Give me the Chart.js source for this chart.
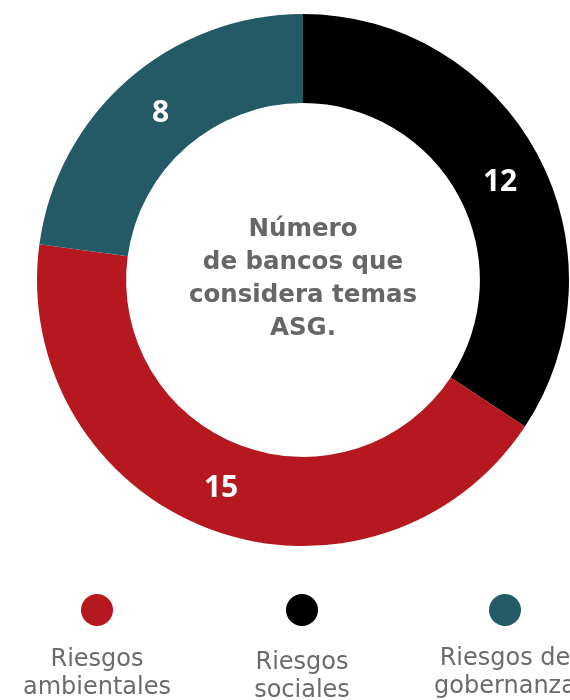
<!DOCTYPE html>
<html lang="es">
<head>
<meta charset="utf-8">
<title>Número de bancos que considera temas ASG</title>
<script src="https://cdn.jsdelivr.net/npm/chart.js@4/dist/chart.umd.min.js"></script>
<style>
  html, body { margin: 0; padding: 0; background: #ffffff; overflow: hidden; }
  #wrap { position: relative; width: 570px; height: 700px; }
  canvas { display: block; }
</style>
</head>
<body>
<div id="wrap"><canvas id="chart" width="570" height="700"></canvas></div>
<script>
// Categories (legend text, one array entry per line) and counts
const categories = [
  ["Riesgos", "ambientales"],
  ["Riesgos", "sociales"],
  ["Riesgos de", "gobernanza"]
];
const counts = [15, 12, 8];
const colors = ["#B5181F", "#000000", "#235A66"];

// Drawing order around the ring: sociales (from the top, clockwise), ambientales, gobernanza
const ringOrder = [1, 0, 2];

const centerLines = ["Número", "de bancos que", "considera temas", "ASG."];

const TEXT_FONT = "'DejaVu Sans', 'Noto Sans', sans-serif";
const NUM_FONT = "'Open Sans', 'Noto Sans', sans-serif";

const ringLabels = ringOrder.map(i => categories[i].join(" "));
const ringValues = ringOrder.map(i => counts[i]);
const ringColors = ringOrder.map(i => colors[i]);

// Value labels inside each arc, placed at mid-ring near the arc's mid-angle
const valueLabels = {
  id: "valueLabels",
  afterDatasetsDraw(chart) {
    const ctx = chart.ctx;
    const meta = chart.getDatasetMeta(0);
    ctx.save();
    ctx.fillStyle = "#ffffff";
    ctx.font = "bold 30px " + NUM_FONT;
    ctx.textAlign = "center";
    ctx.textBaseline = "middle";
    meta.data.forEach((arc, i) => {
      const a = (arc.startAngle + arc.endAngle) / 2 + 0.02;
      const r = (arc.innerRadius + arc.outerRadius) / 2;
      ctx.fillText(String(chart.data.datasets[0].data[i]),
        arc.x + Math.cos(a) * r, arc.y + Math.sin(a) * r + 3);
    });
    ctx.restore();
  }
};

// Title text in the hole of the doughnut
const centerText = {
  id: "centerText",
  afterDraw(chart) {
    const ctx = chart.ctx;
    const arc = chart.getDatasetMeta(0).data[0];
    const lh = 33;
    ctx.save();
    ctx.fillStyle = "#666666";
    ctx.font = "bold 24.5px " + TEXT_FONT;
    ctx.textAlign = "center";
    ctx.textBaseline = "middle";
    const first = arc.y - 1 - lh * (centerLines.length - 1) / 2;
    centerLines.forEach((t, i) => {
      ctx.fillText(t, arc.x, first + i * lh);
    });
    ctx.restore();
  }
};

// Legend below the chart: dot above a two-line label
const dotLegend = {
  id: "dotLegend",
  afterDraw(chart) {
    const ctx = chart.ctx;
    const xs = [97, 302, 505];
    const textY = [660, 663, 659];
    ctx.save();
    categories.forEach((lines, i) => {
      ctx.beginPath();
      ctx.arc(xs[i], 610, 16, 0, Math.PI * 2);
      ctx.fillStyle = colors[i];
      ctx.fill();
      ctx.fillStyle = "#6b6b6b";
      ctx.font = "24px " + TEXT_FONT;
      ctx.textAlign = "center";
      ctx.textBaseline = "middle";
      lines.forEach((t, j) => ctx.fillText(t, xs[i], textY[i] + j * 28));
    });
    ctx.restore();
  }
};

new Chart(document.getElementById("chart"), {
  type: "doughnut",
  data: {
    labels: ringLabels,
    datasets: [{
      data: ringValues,
      backgroundColor: ringColors,
      borderWidth: 0,
      hoverOffset: 0
    }]
  },
  options: {
    responsive: false,
    animation: false,
    cutout: "66.5%",
    layout: { padding: { left: 37, right: 1, top: 14, bottom: 154 } },
    plugins: {
      legend: { display: false },
      tooltip: { enabled: false }
    }
  },
  plugins: [valueLabels, centerText, dotLegend]
});
</script>
</body>
</html>
